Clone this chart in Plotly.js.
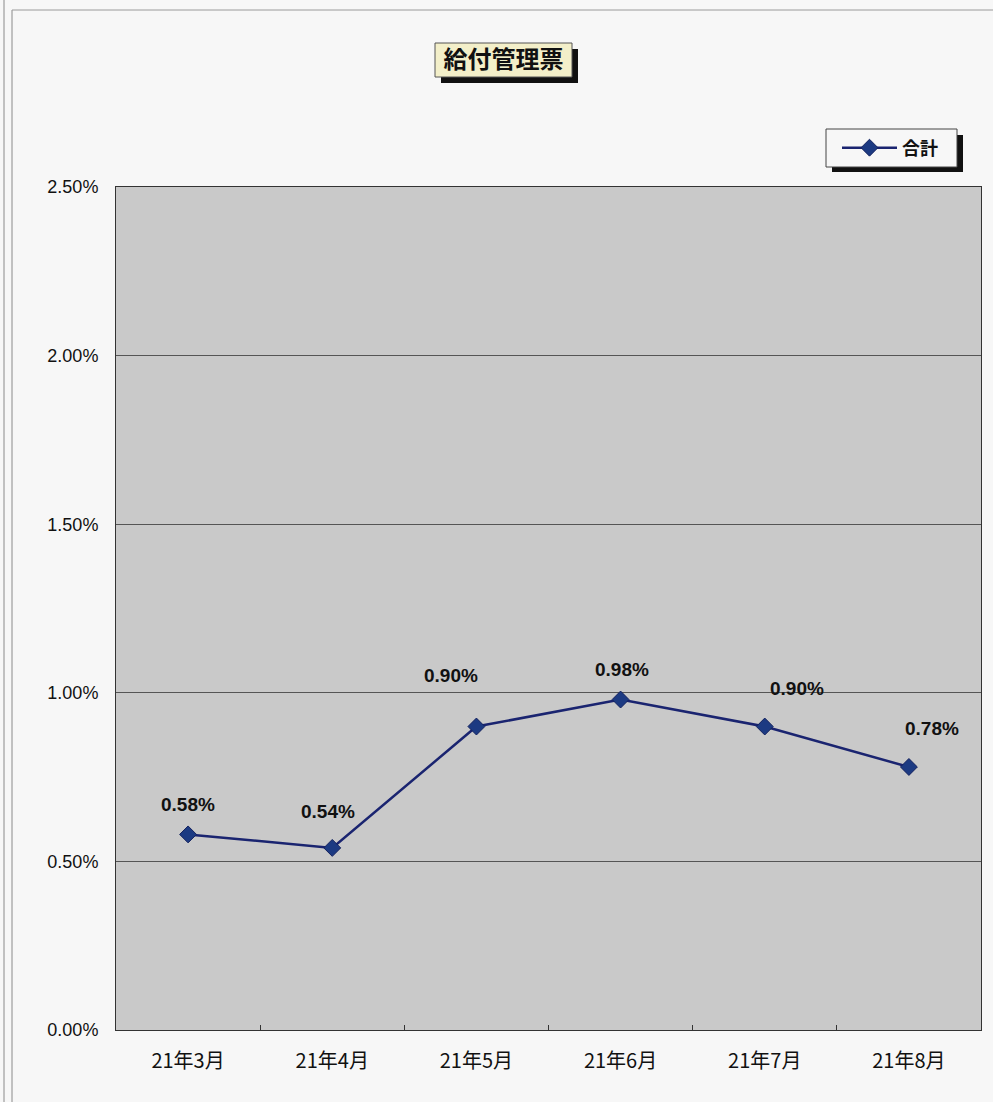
<!DOCTYPE html>
<html>
<head>
<meta charset="utf-8">
<script src="https://cdn.plot.ly/plotly-3.0.1.min.js"></script>
<style>
  html, body { margin: 0; padding: 0; background: #f7f7f7; }
  #chart { width: 993px; height: 1102px; }
</style>
</head>
<body>
<div id="chart"></div>
<script>
// ---- data ----
const categories = ["21年3月", "21年4月", "21年5月", "21年6月", "21年7月", "21年8月"];
const totalValues = [0.0058, 0.0054, 0.0090, 0.0098, 0.0090, 0.0078];
const seriesName = "合計";
const chartTitle = "給付管理票";
const yTickValues = [0, 0.005, 0.01, 0.015, 0.02, 0.025];

// ---- layout helpers (pixel -> paper) ----
const W = 993, H = 1102;
const M = { l: 116, r: 12, t: 187, b: 72 };
const PW = W - M.l - M.r, PH = H - M.t - M.b;
const px = x => (x - M.l) / PW;
const py = y => (H - M.b - y) / PH;

// label offsets (pixels) as placed in the original chart
const labelShift = [[0, 30], [-4, 36], [-25, 51], [1, 30], [32, 38], [23, 38]];

const trace = {
  type: "scatter",
  mode: "lines+markers",
  name: seriesName,
  x: categories,
  y: totalValues,
  line: { color: "#1a2470", width: 2.5 },
  marker: { symbol: "diamond", size: 13, color: "#1c3a82", line: { color: "#14225f", width: 1 } },
  hoverinfo: "skip"
};

const annotations = totalValues.map((v, i) => ({
  x: categories[i], y: v, xref: "x", yref: "y",
  text: "<b>" + (v * 100).toFixed(2) + "%</b>",
  showarrow: false,
  xshift: labelShift[i][0], yshift: labelShift[i][1],
  font: { family: "Liberation Sans Narrow, Arial Narrow, sans-serif", size: 19, color: "#111" }
}));

const shapes = [
  // page frame lines
  { type: "line", xref: "paper", yref: "paper", x0: px(4), x1: px(4), y0: py(0), y1: py(H), line: { color: "#8a8a8a", width: 1 }, layer: "above" },
  { type: "line", xref: "paper", yref: "paper", x0: px(12), x1: px(12), y0: py(10), y1: py(H), line: { color: "#8a8a8a", width: 1 }, layer: "above" },
  { type: "line", xref: "paper", yref: "paper", x0: px(12), x1: px(W), y0: py(10), y1: py(10), line: { color: "#9a9a9a", width: 1 }, layer: "above" },
  // title box shadow + box
  { type: "rect", xref: "paper", yref: "paper", x0: px(441), x1: px(578), y0: py(83), y1: py(49), fillcolor: "#111", line: { width: 0 }, layer: "above" },
  { type: "rect", xref: "paper", yref: "paper", x0: px(435), x1: px(572), y0: py(77), y1: py(43), fillcolor: "#f3efc9", line: { color: "#555", width: 1 }, layer: "above" },
  // legend shadow + box
  { type: "rect", xref: "paper", yref: "paper", x0: px(832), x1: px(963), y0: py(172), y1: py(135), fillcolor: "#111", line: { width: 0 }, layer: "above" },
  { type: "rect", xref: "paper", yref: "paper", x0: px(826), x1: px(957), y0: py(167), y1: py(129), fillcolor: "#f7f7f7", line: { color: "#444", width: 1 }, layer: "above" }
];

const layout = {
  width: W, height: H,
  margin: M,
  paper_bgcolor: "#f7f7f7",
  plot_bgcolor: "#c9c9c9",
  title: {
    text: "<b>" + chartTitle + "</b>",
    xref: "container", yref: "container",
    x: 503.5 / W, y: 1 - 60 / H, xanchor: "center", yanchor: "middle",
    font: { family: "Noto Sans CJK JP, sans-serif", size: 24, color: "#111" }
  },
  showlegend: true,
  legend: {
    x: px(837), y: py(148), xanchor: "left", yanchor: "middle",
    bgcolor: "rgba(0,0,0,0)", borderwidth: 0,
    itemwidth: 55,
    font: { family: "Noto Sans CJK JP, sans-serif", size: 18, color: "#111", weight: "bold" },
    itemclick: false
  },
  xaxis: {
    type: "category",
    range: [-0.5, categories.length - 0.5],
    showgrid: false,
    showline: true, linecolor: "#333", linewidth: 1, mirror: true,
    ticks: "inside", ticklen: 5, tickcolor: "#333", tickson: "boundaries",
    tickfont: { family: "Noto Sans CJK JP, sans-serif", size: 20, color: "#111" },
    ticklabelstandoff: 13,
    fixedrange: true
  },
  yaxis: {
    range: [0, 0.025],
    tickvals: yTickValues,
    tickformat: ".2%",
    showgrid: true, gridcolor: "#555", gridwidth: 1,
    showline: true, linecolor: "#333", linewidth: 1, mirror: true,
    zeroline: false,
    ticks: "",
    tickfont: { family: "Liberation Sans Narrow, Arial Narrow, sans-serif", size: 18, color: "#111" },
    ticklabelstandoff: 13,
    fixedrange: true
  },
  annotations: annotations,
  shapes: shapes
};

Plotly.newPlot("chart", [trace], layout, { displayModeBar: false, staticPlot: true });
</script>
</body>
</html>
